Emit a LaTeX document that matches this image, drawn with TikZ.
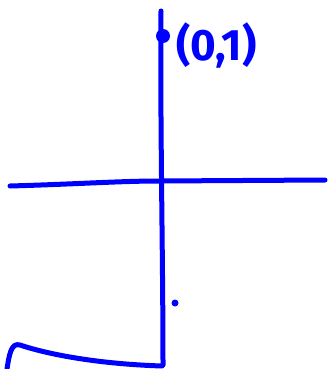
\documentclass[tikz,border=0pt]{standalone}
\usepackage{fontspec}
\setmainfont{Fira Sans}
\definecolor{pen}{RGB}{0,0,255}
\begin{document}
\begin{tikzpicture}[x=1pt,y=-1pt,
  stroke/.style={draw=pen,line width=5pt,line cap=round,line join=round},
  lbl/.style={text=pen,font=\fontsize{44}{48}\selectfont\bfseries,inner sep=0pt}]
\useasboundingbox (0,0) rectangle (329,369);
\coordinate (vtop) at (161,11);
\coordinate (vbot) at (163,365);
\coordinate (hl) at (10,186);
\coordinate (hr) at (325,180);
\draw[stroke] (vtop) .. controls (160,120) and (163,260) .. (vbot);
\draw[stroke] (hl) .. controls (80,184) and (120,181) .. (160,181) -- (hr);
\coordinate (ca) at (7,369);
\coordinate (cb) at (162,366);
\draw[stroke] (ca) .. controls (9,356) and (11,342) .. (20,345) .. controls (50,355) and (100,364) .. (cb);
\node[circle,fill=pen,minimum size=14pt,inner sep=0pt] (pt) at (163,36) {};
\node[circle,fill=pen,minimum size=7pt,inner sep=0pt] (sd) at (175,303) {};
\node[lbl,anchor=west] (lab) at (176,45) {(0,1)};
\end{tikzpicture}
\end{document}
